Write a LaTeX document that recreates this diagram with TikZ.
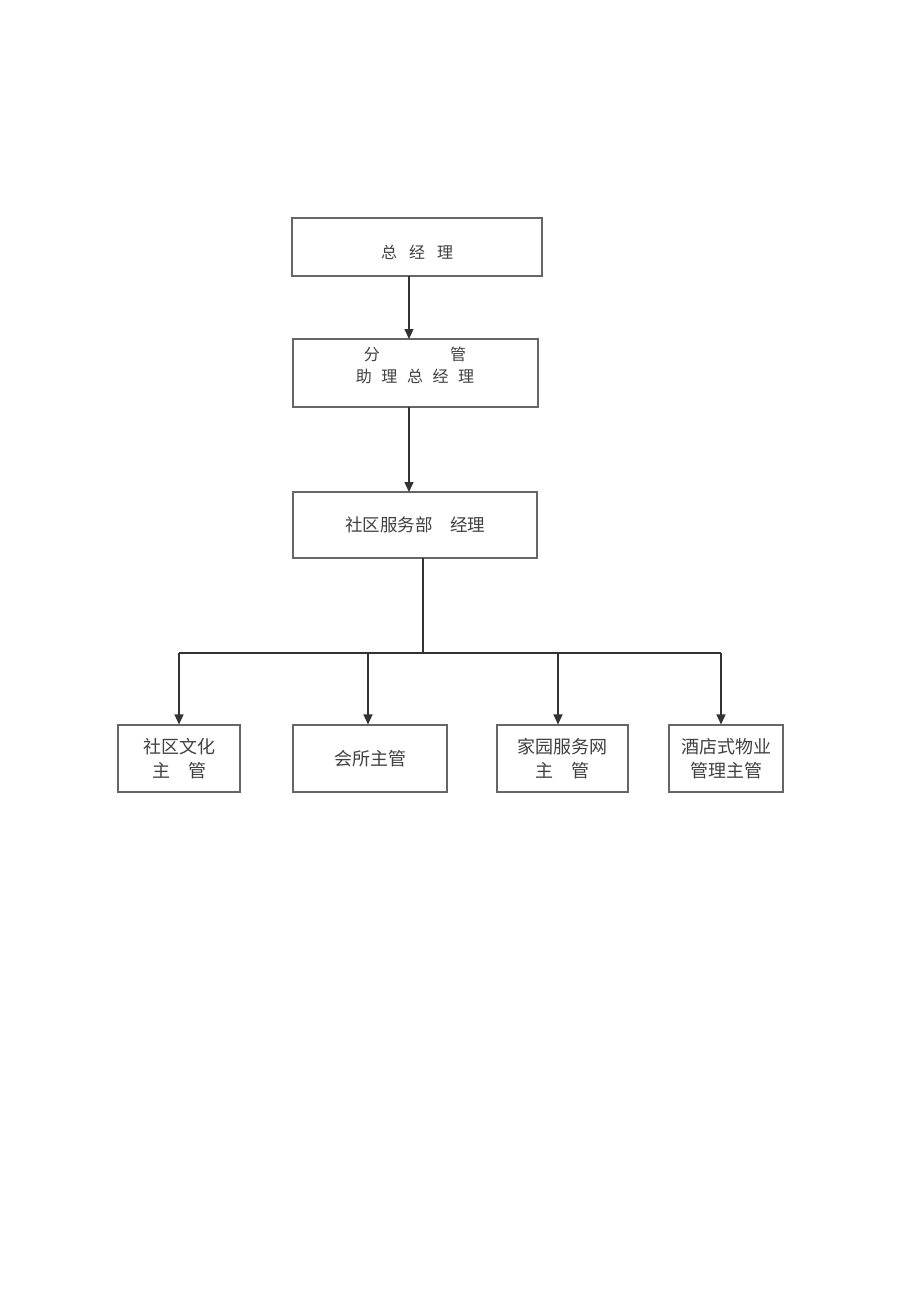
\documentclass[tikz,border=0pt]{standalone}
\usepackage{fontspec}
\setmainfont{Noto Sans CJK SC}
\usetikzlibrary{arrows.meta}
\begin{document}
\begin{tikzpicture}[x=1pt,y=-1pt,
  box/.style={draw=black!60,line width=1.1pt,inner sep=0pt,text=black!75,align=center},
  lbl/.style={inner sep=0pt,text=black!75,align=center},
  conn/.style={draw=black!80,line width=1.3pt},
  arr/.style={conn,-{Triangle[width=9pt,length=10pt]}}]
\useasboundingbox (0,0) rectangle (920,1301);
\fill[white] (0,0) rectangle (920,1301);
% boxes
\node[box,minimum width=250pt,minimum height=58pt] (gm) at (417,247) {};
\node[lbl,font=\fontsize{16}{18}\selectfont] (gmt) at (417,252) {总\hspace{0.75em}经\hspace{0.75em}理};
\node[box,minimum width=245pt,minimum height=68pt] (agm) at (415.5,373) {};
\node[lbl,font=\fontsize{16}{22}\selectfont] (agmt) at (415,365) {分\hspace{4.4em}管\\助\hspace{0.6em}理\hspace{0.6em}总\hspace{0.6em}经\hspace{0.6em}理};
\node[box,minimum width=244pt,minimum height=66pt,font=\fontsize{17.5}{20}\selectfont] (sm) at (415,525) {社区服务部\hspace{1em}经理};
\node[box,minimum width=122pt,minimum height=67pt,font=\fontsize{18}{24}\selectfont] (a) at (179,758.5) {社区文化\\主\hspace{1em}管};
\node[box,minimum width=154pt,minimum height=67pt,font=\fontsize{18}{24}\selectfont] (b) at (370,758.5) {会所主管};
\node[box,minimum width=131pt,minimum height=67pt,font=\fontsize{18}{24}\selectfont] (c) at (562.5,758.5) {家园服务网\\主\hspace{1em}管};
\node[box,minimum width=114pt,minimum height=67pt,font=\fontsize{18}{24}\selectfont] (d) at (726,758.5) {酒店式物业\\管理主管};
% connectors
\coordinate (gmo) at (409,276);
\coordinate (agmi) at (409,339);
\coordinate (agmo) at (409,407);
\coordinate (smi) at (409,492);
\coordinate (smo) at (423,558);
\coordinate (j) at (423,653);
\coordinate (l) at (179,653);
\coordinate (lb) at (368,653);
\coordinate (lc) at (558,653);
\coordinate (r) at (721,653);
\draw[arr] (gmo) -- (agmi);
\draw[arr] (agmo) -- (smi);
\draw[conn] (smo) -- (j);
\draw[conn] (l) -- (r);
\draw[arr] (l) -- (a.north -| l);
\draw[arr] (lb) -- (b.north -| lb);
\draw[arr] (lc) -- (c.north -| lc);
\draw[arr] (r) -- (d.north -| r);
\end{tikzpicture}
\end{document}
